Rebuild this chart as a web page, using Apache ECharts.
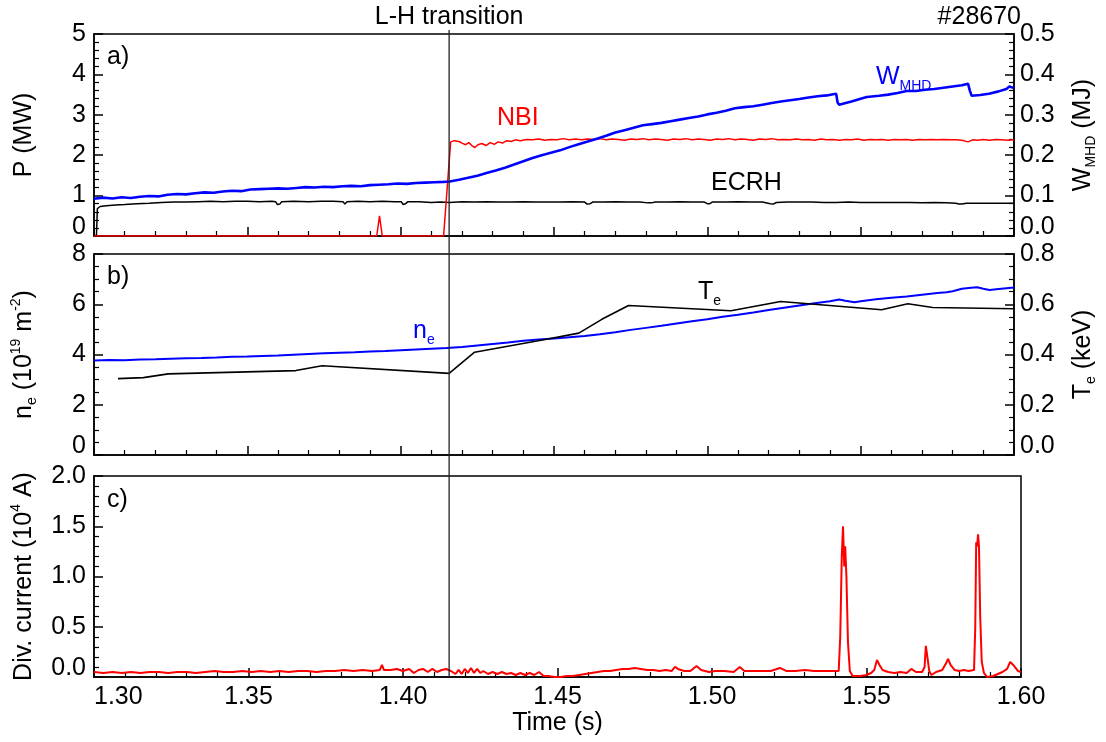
<!DOCTYPE html>
<html>
<head>
<meta charset="utf-8">
<script src="https://cdn.jsdelivr.net/npm/echarts@6/dist/echarts.min.js"></script>
<style>
html,body{margin:0;padding:0;background:#fff;}
#c{width:1106px;height:742px;}
</style>
</head>
<body>
<div id="c"></div>
<script>
// ---------------- data ----------------
const tLH = 1.4158; // L-H transition time (s)

const xTicks = [1.30, 1.35, 1.40, 1.45, 1.50, 1.55, 1.60];

// ECRH power (MW)
const ecrh = [[1.3000,0.00],[1.3008,0.02],[1.3011,0.68],[1.3020,0.73],[1.3040,0.75],[1.3070,0.77],[1.3100,0.78],[1.3140,0.80],[1.3180,0.81],[1.3220,0.83],[1.3260,0.84],[1.3300,0.84],[1.3340,0.85],[1.3380,0.86],[1.3420,0.85],[1.3460,0.86],[1.3500,0.86],[1.3540,0.85],[1.3580,0.86],[1.3592,0.85],[1.3598,0.78],[1.3606,0.79],[1.3612,0.85],[1.3650,0.86],[1.3700,0.85],[1.3740,0.86],[1.3780,0.86],[1.3812,0.85],[1.3818,0.79],[1.3825,0.85],[1.3860,0.86],[1.3900,0.85],[1.3940,0.86],[1.3980,0.85],[1.4002,0.85],[1.4008,0.78],[1.4016,0.80],[1.4024,0.85],[1.4060,0.85],[1.4100,0.83],[1.4130,0.84],[1.4160,0.83],[1.4200,0.85],[1.4240,0.84],[1.4280,0.85],[1.4320,0.84],[1.4360,0.84],[1.4400,0.85],[1.4440,0.84],[1.4480,0.84],[1.4520,0.84],[1.4560,0.85],[1.4600,0.84],[1.4608,0.79],[1.4618,0.80],[1.4626,0.84],[1.4660,0.84],[1.4700,0.85],[1.4740,0.84],[1.4780,0.84],[1.4806,0.82],[1.4812,0.80],[1.4818,0.82],[1.4830,0.84],[1.4870,0.84],[1.4910,0.85],[1.4950,0.84],[1.4990,0.84],[1.5000,0.80],[1.5008,0.80],[1.5016,0.84],[1.5060,0.84],[1.5100,0.85],[1.5140,0.84],[1.5180,0.84],[1.5205,0.80],[1.5215,0.79],[1.5225,0.83],[1.5260,0.84],[1.5300,0.84],[1.5340,0.84],[1.5380,0.83],[1.5420,0.83],[1.5460,0.84],[1.5500,0.83],[1.5540,0.83],[1.5580,0.83],[1.5620,0.83],[1.5660,0.83],[1.5700,0.82],[1.5740,0.83],[1.5780,0.82],[1.5810,0.81],[1.5820,0.79],[1.5830,0.79],[1.5845,0.81],[1.5880,0.81],[1.5920,0.81],[1.5960,0.81],[1.6000,0.81]];

// NBI power (MW)
const nbi = [[1.3000,0],[1.3922,0],[1.3931,0.50],[1.3940,0],[1.4140,0],[1.4163,2.33],[1.4175,2.36],[1.4190,2.34],[1.4200,2.30],[1.4212,2.26],[1.4222,2.31],[1.4232,2.24],[1.4242,2.19],[1.4252,2.26],[1.4265,2.29],[1.4278,2.24],[1.4292,2.31],[1.4305,2.27],[1.4318,2.33],[1.4332,2.30],[1.4346,2.36],[1.4360,2.34],[1.4375,2.38],[1.4390,2.36],[1.4410,2.39],[1.4430,2.38],[1.4450,2.40],[1.4470,2.37],[1.4490,2.39],[1.4510,2.38],[1.4530,2.41],[1.4550,2.38],[1.4570,2.40],[1.4590,2.38],[1.4610,2.40],[1.4630,2.39],[1.4650,2.41],[1.4670,2.38],[1.4690,2.40],[1.4710,2.39],[1.4730,2.37],[1.4750,2.40],[1.4770,2.39],[1.4790,2.41],[1.4810,2.38],[1.4830,2.40],[1.4850,2.39],[1.4870,2.37],[1.4890,2.40],[1.4910,2.39],[1.4930,2.41],[1.4950,2.38],[1.4970,2.40],[1.4990,2.39],[1.5010,2.37],[1.5030,2.40],[1.5050,2.39],[1.5070,2.41],[1.5090,2.38],[1.5110,2.40],[1.5130,2.39],[1.5150,2.37],[1.5170,2.40],[1.5190,2.39],[1.5210,2.41],[1.5230,2.38],[1.5250,2.39],[1.5270,2.38],[1.5290,2.40],[1.5310,2.38],[1.5330,2.39],[1.5350,2.37],[1.5370,2.40],[1.5390,2.38],[1.5410,2.39],[1.5430,2.37],[1.5450,2.39],[1.5470,2.38],[1.5490,2.40],[1.5510,2.37],[1.5530,2.39],[1.5550,2.38],[1.5570,2.39],[1.5590,2.37],[1.5610,2.39],[1.5630,2.38],[1.5650,2.39],[1.5670,2.37],[1.5690,2.39],[1.5710,2.38],[1.5730,2.39],[1.5750,2.38],[1.5770,2.39],[1.5790,2.38],[1.5810,2.38],[1.5830,2.37],[1.5850,2.33],[1.5865,2.38],[1.5880,2.37],[1.5900,2.39],[1.5920,2.37],[1.5940,2.39],[1.5960,2.38],[1.5980,2.37],[1.6000,2.38]];

// W_MHD (MJ)
const wmhd = [[1.3000,0.092],[1.3030,0.095],[1.3060,0.093],[1.3090,0.096],[1.3120,0.094],[1.3150,0.097],[1.3180,0.099],[1.3210,0.098],[1.3240,0.102],[1.3270,0.104],[1.3300,0.103],[1.3330,0.106],[1.3360,0.108],[1.3390,0.107],[1.3420,0.110],[1.3450,0.112],[1.3480,0.111],[1.3510,0.115],[1.3540,0.116],[1.3570,0.117],[1.3600,0.118],[1.3630,0.117],[1.3660,0.119],[1.3690,0.121],[1.3720,0.120],[1.3750,0.122],[1.3780,0.121],[1.3810,0.123],[1.3840,0.124],[1.3870,0.123],[1.3900,0.126],[1.3930,0.127],[1.3960,0.128],[1.3990,0.130],[1.4020,0.129],[1.4050,0.131],[1.4080,0.132],[1.4110,0.133],[1.4140,0.134],[1.4160,0.135],[1.4190,0.139],[1.4220,0.144],[1.4250,0.149],[1.4280,0.156],[1.4310,0.162],[1.4340,0.169],[1.4370,0.177],[1.4400,0.185],[1.4430,0.193],[1.4460,0.200],[1.4490,0.206],[1.4520,0.212],[1.4550,0.220],[1.4580,0.227],[1.4610,0.234],[1.4640,0.241],[1.4670,0.248],[1.4700,0.256],[1.4730,0.262],[1.4760,0.268],[1.4790,0.274],[1.4820,0.277],[1.4850,0.280],[1.4880,0.284],[1.4910,0.288],[1.4940,0.292],[1.4970,0.296],[1.5000,0.301],[1.5030,0.305],[1.5060,0.310],[1.5090,0.316],[1.5120,0.319],[1.5150,0.321],[1.5180,0.325],[1.5210,0.329],[1.5240,0.333],[1.5270,0.336],[1.5300,0.339],[1.5330,0.343],[1.5360,0.346],[1.5390,0.348],[1.5410,0.351],[1.5420,0.352],[1.5425,0.330],[1.5430,0.325],[1.5445,0.328],[1.5470,0.333],[1.5500,0.340],[1.5520,0.344],[1.5560,0.347],[1.5590,0.350],[1.5620,0.354],[1.5650,0.359],[1.5680,0.359],[1.5710,0.362],[1.5740,0.364],[1.5770,0.367],[1.5800,0.370],[1.5830,0.373],[1.5850,0.377],[1.5856,0.360],[1.5862,0.347],[1.5890,0.349],[1.5918,0.352],[1.5950,0.358],[1.5975,0.364],[1.5985,0.370],[1.6000,0.366]];

// line-integrated density n_e (10^19 m^-2)
const ne = [[1.3000,3.76],[1.3050,3.78],[1.3100,3.77],[1.3150,3.80],[1.3200,3.81],[1.3250,3.83],[1.3300,3.85],[1.3350,3.86],[1.3400,3.88],[1.3450,3.91],[1.3500,3.92],[1.3550,3.94],[1.3600,3.96],[1.3650,3.99],[1.3700,4.02],[1.3750,4.05],[1.3800,4.07],[1.3850,4.09],[1.3900,4.12],[1.3950,4.14],[1.4000,4.17],[1.4050,4.20],[1.4100,4.23],[1.4150,4.26],[1.4200,4.30],[1.4250,4.36],[1.4300,4.42],[1.4350,4.48],[1.4400,4.55],[1.4450,4.60],[1.4500,4.64],[1.4550,4.69],[1.4600,4.74],[1.4650,4.81],[1.4700,4.89],[1.4750,4.98],[1.4800,5.06],[1.4850,5.14],[1.4900,5.23],[1.4950,5.32],[1.5000,5.40],[1.5050,5.50],[1.5100,5.58],[1.5150,5.67],[1.5200,5.77],[1.5250,5.86],[1.5300,5.95],[1.5350,6.04],[1.5400,6.12],[1.5430,6.19],[1.5450,6.14],[1.5480,6.08],[1.5500,6.12],[1.5550,6.20],[1.5600,6.26],[1.5650,6.31],[1.5700,6.38],[1.5750,6.45],[1.5780,6.48],[1.5800,6.52],[1.5830,6.62],[1.5860,6.66],[1.5880,6.68],[1.5900,6.62],[1.5920,6.57],[1.5950,6.61],[1.6000,6.67]];

// electron temperature T_e (keV)
const te = [[1.3078,0.304],[1.3161,0.308],[1.3242,0.323],[1.3658,0.336],[1.3744,0.355],[1.4158,0.325],[1.4241,0.409],[1.4462,0.458],[1.4581,0.485],[1.4656,0.540],[1.4743,0.595],[1.5077,0.574],[1.5239,0.611],[1.5568,0.578],[1.5654,0.602],[1.5735,0.587],[1.6000,0.582]];

// divertor current (10^4 A)
const divCur = [[1.3000,0.05],[1.3030,0.04],[1.3060,0.05],[1.3090,0.04],[1.3120,0.05],[1.3150,0.04],[1.3180,0.05],[1.3210,0.05],[1.3240,0.04],[1.3270,0.05],[1.3300,0.05],[1.3330,0.04],[1.3360,0.05],[1.3390,0.06],[1.3420,0.05],[1.3450,0.05],[1.3480,0.06],[1.3510,0.05],[1.3540,0.06],[1.3570,0.05],[1.3600,0.06],[1.3630,0.05],[1.3660,0.06],[1.3690,0.06],[1.3720,0.05],[1.3750,0.06],[1.3780,0.06],[1.3810,0.07],[1.3840,0.06],[1.3870,0.07],[1.3900,0.06],[1.3925,0.07],[1.3932,0.12],[1.3938,0.07],[1.3960,0.07],[1.3980,0.08],[1.4000,0.06],[1.4020,0.08],[1.4035,0.04],[1.4050,0.07],[1.4065,0.08],[1.4080,0.05],[1.4095,0.08],[1.4110,0.05],[1.4125,0.07],[1.4140,0.08],[1.4155,0.06],[1.4170,0.03],[1.4180,0.07],[1.4190,0.03],[1.4200,0.08],[1.4210,0.04],[1.4220,0.09],[1.4230,0.04],[1.4240,0.08],[1.4250,0.04],[1.4260,0.06],[1.4275,0.03],[1.4290,0.05],[1.4305,0.03],[1.4320,0.05],[1.4335,0.03],[1.4350,0.04],[1.4365,0.02],[1.4380,0.04],[1.4395,0.02],[1.4410,0.04],[1.4425,0.02],[1.4440,0.05],[1.4455,0.01],[1.4470,0.01],[1.4490,0.00],[1.4510,0.00],[1.4530,0.01],[1.4550,0.01],[1.4570,0.02],[1.4590,0.03],[1.4610,0.04],[1.4630,0.05],[1.4650,0.06],[1.4670,0.06],[1.4690,0.07],[1.4710,0.08],[1.4730,0.08],[1.4750,0.09],[1.4770,0.08],[1.4790,0.07],[1.4810,0.07],[1.4830,0.06],[1.4850,0.07],[1.4870,0.06],[1.4880,0.10],[1.4890,0.08],[1.4910,0.06],[1.4930,0.06],[1.4950,0.11],[1.4965,0.07],[1.4990,0.05],[1.5010,0.06],[1.5040,0.06],[1.5070,0.05],[1.5090,0.10],[1.5105,0.06],[1.5130,0.06],[1.5160,0.06],[1.5190,0.06],[1.5220,0.09],[1.5240,0.06],[1.5270,0.06],[1.5300,0.07],[1.5330,0.06],[1.5360,0.06],[1.5390,0.06],[1.5410,0.06],[1.5415,0.40],[1.5420,1.20],[1.5424,1.50],[1.5428,1.10],[1.5431,1.30],[1.5435,1.00],[1.5440,0.35],[1.5446,0.06],[1.5455,0.01],[1.5480,0.01],[1.5500,0.02],[1.5515,0.04],[1.5525,0.07],[1.5534,0.17],[1.5542,0.12],[1.5552,0.07],[1.5570,0.05],[1.5590,0.04],[1.5610,0.05],[1.5630,0.04],[1.5645,0.08],[1.5660,0.05],[1.5680,0.05],[1.5688,0.10],[1.5692,0.31],[1.5697,0.20],[1.5703,0.06],[1.5710,0.02],[1.5716,0.01],[1.5725,0.05],[1.5745,0.07],[1.5758,0.14],[1.5764,0.18],[1.5772,0.12],[1.5785,0.07],[1.5800,0.06],[1.5815,0.07],[1.5830,0.06],[1.5848,0.07],[1.5852,0.50],[1.5855,1.34],[1.5858,1.30],[1.5861,1.42],[1.5864,1.30],[1.5868,0.60],[1.5873,0.15],[1.5880,0.04],[1.5890,0.00],[1.5910,0.01],[1.5925,0.03],[1.5940,0.05],[1.5955,0.08],[1.5965,0.15],[1.5975,0.12],[1.5990,0.06],[1.6000,0.05]];

// ---------------- chart ----------------
const FONT = "'Liberation Sans', Arial, sans-serif";
const FS = 25;
const BLACK = '#000';
const RED = '#ff0000';
const BLUE = '#0000ff';
const lineSty = {color: BLACK, width: 1.5};

const grids = [
  {left: 94, right: 85, top: 34, height: 202},
  {left: 94, right: 85, top: 254, height: 201},
  {left: 94, right: 85, top: 476, height: 201}
].map(g => Object.assign(g, {show: true, borderColor: BLACK, borderWidth: 1.5, containLabel: false}));

const richSub = {
  s: {fontSize: 14, fontFamily: FONT, verticalAlign: 'bottom', lineHeight: 14, color: BLACK},
  p: {fontSize: 14, fontFamily: FONT, verticalAlign: 'top', lineHeight: 14, color: BLACK}
};

function xAxis(i) {
  return {
    type: 'value', gridIndex: i, min: xTicks[0], max: xTicks[xTicks.length - 1], interval: 0.05,
    axisLine: {show: true, onZero: false, lineStyle: lineSty},
    axisTick: {show: true, inside: true, length: 9, lineStyle: lineSty},
    minorTick: {show: true, splitNumber: 5, length: 5, lineStyle: {color: BLACK, width: 1.2}},
    splitLine: {show: false},
    axisLabel: {show: i === 2, color: BLACK, fontSize: FS, fontFamily: FONT, margin: 8,
      formatter: v => v.toFixed(2), alignMinLabel: 'left'},
    name: i === 2 ? 'Time (s)' : '', nameLocation: 'middle', nameGap: 32,
    nameTextStyle: {color: BLACK, fontSize: FS, fontFamily: FONT}
  };
}

function yAxis(i, pos, min, max, interval, minorSplit, dec, name) {
  return {
    type: 'value', gridIndex: i, position: pos, min: min, max: max, interval: interval,
    axisLine: {show: true, onZero: false, lineStyle: lineSty},
    axisTick: {show: true, inside: true, length: 9, lineStyle: lineSty},
    minorTick: {show: true, splitNumber: minorSplit, length: 5, lineStyle: {color: BLACK, width: 1.2}},
    splitLine: {show: false},
    axisLabel: {color: BLACK, fontSize: FS, fontFamily: FONT, margin: pos === 'left' ? 8 : 6, lineHeight: 18,
      formatter: v => v.toFixed(dec), verticalAlignMinLabel: 'bottom'},
    name: name, nameLocation: 'middle', nameRotate: 90, nameGap: pos === 'left' ? 55 : 54,
    nameTextStyle: {color: BLACK, fontSize: FS, fontFamily: FONT, lineHeight: 30, rich: richSub}
  };
}

function line(data, xi, yi, color, width, z) {
  return {type: 'line', data: data, xAxisIndex: xi, yAxisIndex: yi, showSymbol: false, symbol: 'none',
    lineStyle: {color: color, width: width}, itemStyle: {color: color}, z: z || 2, animation: false};
}

const option = {
  backgroundColor: '#fff',
  animation: false,
  grid: grids,
  xAxis: [xAxis(0), xAxis(1), xAxis(2)],
  yAxis: [
    yAxis(0, 'left', 0, 5, 1, 5, 0, 'P (MW)'),
    yAxis(0, 'right', 0, 0.5, 0.1, 5, 1, 'W{s|MHD} (MJ)'),
    yAxis(1, 'left', 0, 8, 2, 4, 0, 'n{s|e} (10{p|19} m{p|-2})'),
    yAxis(1, 'right', 0, 0.8, 0.2, 4, 1, 'T{s|e} (keV)'),
    yAxis(2, 'left', 0, 2, 0.5, 5, 1, 'Div. current (10{p|4} A)')
  ],
  series: [
    line(ecrh, 0, 0, BLACK, 1.5, 3),
    line(nbi, 0, 0, RED, 1.5, 3),
    line(wmhd, 0, 1, BLUE, 2.6, 4),
    line(ne, 1, 2, BLUE, 2, 3),
    line(te, 1, 3, BLACK, 1.6, 4),
    line(divCur, 2, 4, RED, 2, 3)
  ]
};

const chart = echarts.init(document.getElementById('c'), null, {renderer: 'canvas'});
chart.setOption(option);

const xLH = chart.convertToPixel({xAxisIndex: 0}, tLH);
function txt(x, y, text, color, align) {
  return {type: 'text', x: x, y: y, z: 100,
    style: {text: text, fill: color, font: FS + 'px ' + FONT, align: align || 'left', verticalAlign: 'middle'}};
}
function subTxt(x, y, main, sub, color) {
  return {type: 'text', x: x, y: y, z: 100, style: {text: '{m|' + main + '}{s|' + sub + '}', fill: color, verticalAlign: 'middle',
    rich: {m: {fontSize: FS, fontFamily: FONT, lineHeight: 32, fill: color, verticalAlign: 'middle'},
           s: {fontSize: 14, fontFamily: FONT, lineHeight: 14, fill: color, verticalAlign: 'bottom'}}}};
}
chart.setOption({
  graphic: [
    {type: 'line', z: 50, shape: {x1: xLH, y1: 30, x2: xLH, y2: 677}, style: {stroke: '#222', lineWidth: 1.3}},
    txt(xLH, 17, 'L-H transition', BLACK, 'center'),
    txt(1021, 17, '#28670', BLACK, 'right'),
    txt(107, 57, 'a)', BLACK),
    txt(107, 277, 'b)', BLACK),
    txt(107, 500, 'c)', BLACK),
    txt(497, 118, 'NBI', RED),
    txt(711, 183, 'ECRH', BLACK),
    subTxt(876, 77, 'W', 'MHD', BLUE),
    subTxt(413, 331, 'n', 'e', BLUE),
    subTxt(698, 292, 'T', 'e', BLACK)
  ]
});
</script>
</body>
</html>
